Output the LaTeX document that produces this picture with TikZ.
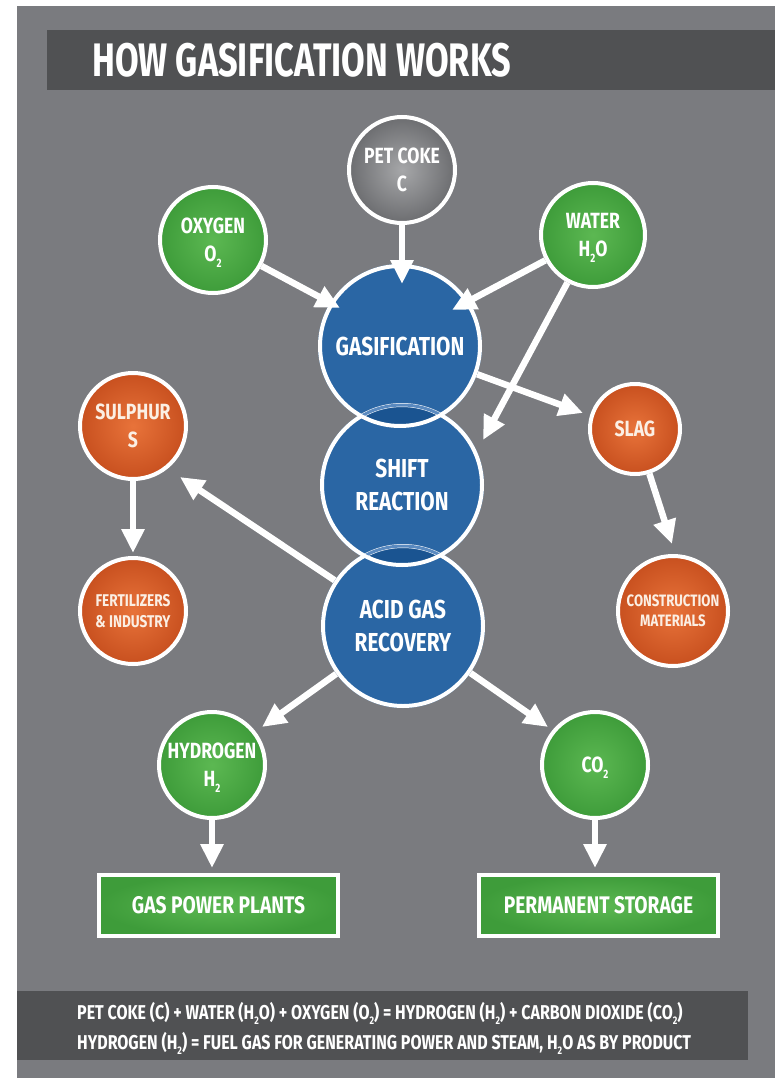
\documentclass[tikz,border=0pt]{standalone}
\usepackage{fontspec}
\setmainfont{Fira Sans}[FakeStretch=0.8]
\newfontfamily\titlefont{Fira Sans}[FakeStretch=0.73]
\usepackage{graphicx}
\usetikzlibrary{arrows.meta,shadows}
\definecolor{bgA}{HTML}{7A7B7F}
\definecolor{barA}{HTML}{505153}
\definecolor{blueM}{HTML}{2A66A4}
\definecolor{blueD}{HTML}{1A5491}
\definecolor{blueF}{HTML}{5A8AC0}
\definecolor{greenIn}{HTML}{5CB852}
\definecolor{greenOut}{HTML}{3E9C3A}
\definecolor{orIn}{HTML}{E8733A}
\definecolor{orOut}{HTML}{C8501F}
\definecolor{grIn}{HTML}{A6A7A9}
\definecolor{grOut}{HTML}{6C6D70}
\definecolor{cream}{HTML}{FBEFE4}
\newcommand{\sbs}[1]{\raisebox{-0.5ex}{\scalebox{0.55}{#1}}}
\tikzset{
  circ/.style={circle, draw=white, line width=4pt, inner sep=0pt, align=center, text depth=0pt,
    text=white, font=\bfseries\fontsize{22}{28}\selectfont,
    circular drop shadow={shadow xshift=2pt, shadow yshift=-3pt, opacity=0.3, shadow scale=1.04}},
  greenc/.style={circ, inner color=greenIn, outer color=greenOut},
  orc/.style={circ, inner color=orIn, outer color=orOut, text=cream},
  grc/.style={circ, inner color=grIn, outer color=grOut},
  bluec/.style={circle, fill=blueM, inner sep=0pt, minimum size=164pt, align=center, text depth=0pt,
    text=white, font=\bfseries\fontsize{26}{33}\selectfont},
  bord/.style={draw=white, line width=4pt},
  faint/.style={draw=blueF, line width=3pt},
  boxg/.style={rectangle, draw=white, line width=4pt, inner color=greenIn, outer color=greenOut,
    minimum width=239pt, minimum height=61pt, text=white, font=\bfseries\fontsize{24}{28}\selectfont},
  arr/.style={draw=white, line width=6.5pt, -{Triangle[length=24pt,width=22pt]}},
}
\begin{document}
\begin{tikzpicture}[x=1pt,y=-1pt]
\useasboundingbox (0,0) rectangle (775,1078);
\fill[white] (0,0) rectangle (775,1078);
\fill[bgA] (17,6) rectangle (775,1078);
% title
\fill[barA] (47,30) rectangle (775,90);
\node[anchor=base west, inner sep=0pt, text=white, font=\titlefont\bfseries\fontsize{47}{50}\selectfont] (title) at (92,77) {HOW GASIFICATION WORKS};
% footer
\fill[barA] (17,991) rectangle (748,1060);
\node[anchor=base west, inner sep=0pt, text=white, font=\bfseries\fontsize{20}{24}\selectfont] (f1) at (77,1019) {PET COKE (C) + WATER (H\sbs{2}O) + OXYGEN (O\sbs{2}) = HYDROGEN (H\sbs{2}) + CARBON DIOXIDE (CO\sbs{2})};
\node[anchor=base west, inner sep=0pt, text=white, font=\bfseries\fontsize{20}{24}\selectfont] (f2) at (77,1049) {HYDROGEN (H\sbs{2}) = FUEL GAS FOR GENERATING POWER AND STEAM, H\sbs{2}O AS BY PRODUCT};
% blue process circles
\node[bluec] (acid) at (403,626) {ACID GAS\\RECOVERY};
\node[bluec] (shift) at (402,485) {SHIFT\\REACTION};
\node[bluec] (gas) at (400,346) {GASIFICATION};
\begin{scope}\clip (gas) circle[radius=82]; \fill[blueD] (shift) circle[radius=82];\end{scope}
\begin{scope}\clip (shift) circle[radius=82]; \fill[blueD] (acid) circle[radius=82];\end{scope}
\draw[bord] (acid) circle[radius=80];
\draw[bord] (shift) circle[radius=80];
\draw[bord] (gas) circle[radius=80];
\begin{scope}\clip (shift) circle[radius=78]; \draw[faint] (acid) circle[radius=80];\end{scope}
\begin{scope}\clip (gas) circle[radius=78]; \draw[faint] (shift) circle[radius=80];\end{scope}
% inputs
\node[grc, minimum size=106pt] (pet) at (402,170) {PET COKE\\C};
\node[greenc, minimum size=106pt] (oxy) at (213,240) {OXYGEN\\O\sbs{2}};
\node[greenc, minimum size=104pt] (water) at (593,235) {WATER\\H\sbs{2}O};
% by-products
\node[orc, minimum size=106pt] (sul) at (133,426) {SULPHUR\\S};
\node[orc, minimum size=106pt, font=\bfseries\fontsize{17}{21}\selectfont] (fert) at (133,611) {FERTILIZERS\\\& INDUSTRY};
\node[orc, minimum size=90pt] (slag) at (635,429) {SLAG};
\node[orc, minimum size=110pt, font=\bfseries\fontsize{16.5}{20}\selectfont] (cons) at (673,611) {CONSTRUCTION\\MATERIALS};
% products
\node[greenc, minimum size=106pt] (hyd) at (212,765) {HYDROGEN\\H\sbs{2}};
\node[greenc, minimum size=106pt] (co2) at (595,765) {CO\sbs{2}};
\node[boxg] (gpp) at (218.5,905.5) {GAS POWER PLANTS};
\node[boxg] (ps) at (598.5,905.5) {PERMANENT STORAGE};
% arrow tips
\coordinate (tPet) at (402,284);
\coordinate (tOxy) at (340,308);
\coordinate (tWg) at (452,310);
\coordinate (tWs) at (483,440);
\coordinate (tSlag) at (583,413);
\coordinate (tSul) at (180,477);
\coordinate (tFert) at (133,553);
\coordinate (tCons) at (672,544);
\coordinate (tHyd) at (262,727);
\coordinate (tCo2) at (548,727);
\coordinate (tGpp) at (212,868);
\coordinate (tPs) at (595,868);
% arrows
\draw[arr] (pet) -- (tPet);
\draw[arr] (oxy) -- (tOxy);
\draw[arr] (water) -- (tWg);
\draw[arr] (gas) -- (tSlag);
\draw[arr] (water) -- (tWs);
\draw[arr] (acid) -- (tSul);
\draw[arr] (sul) -- (tFert);
\draw[arr] (slag) -- (tCons);
\draw[arr] (acid) -- (tHyd);
\draw[arr] (acid) -- (tCo2);
\draw[arr] (hyd) -- (tGpp);
\draw[arr] (co2) -- (tPs);
\end{tikzpicture}
\end{document}
